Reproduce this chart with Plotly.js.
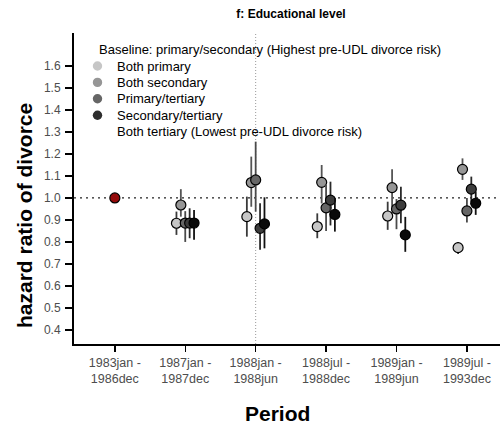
<!DOCTYPE html>
<html>
<head>
<meta charset="utf-8">
<script src="https://cdn.plot.ly/plotly-3.0.1.min.js"></script>
<style>html,body{margin:0;padding:0;background:#fff;}#chart{width:500px;height:427px;}</style>
</head>
<body>
<div id="chart"></div>
<script>
// ---- data ----
const periodLabels = ["1983jan -<br>1986dec", "1987jan -<br>1987dec", "1988jan -<br>1988jun", "1988jul -<br>1988dec", "1989jan -<br>1989jun", "1989jul -<br>1993dec"];
const periodIndex = [0, 1, 2, 3, 4, 5];
const laterPeriods = [1, 2, 3, 4, 5];

const baselineName = "Baseline: primary/secondary (Highest pre-UDL divorce risk)";
const baselinePeriod = [0];
const baselineValue = [1.0];

const seriesNames = ["Both primary", "Both secondary", "Primary/tertiary", "Secondary/tertiary", "Both tertiary (Lowest pre-UDL divorce risk)"];

const bothPrimary       = [0.885, 0.915, 0.870, 0.918, 0.774];
const bothPrimaryLo     = [0.832, 0.824, 0.817, 0.855, 0.745];
const bothPrimaryHi     = [0.938, 1.006, 0.930, 0.983, 0.800];

const bothSecondary     = [0.968, 1.070, 1.071, 1.047, 1.130];
const bothSecondaryLo   = [0.915, 0.960, 0.975, 0.960, 1.082];
const bothSecondaryHi   = [1.040, 1.188, 1.150, 1.130, 1.180];

const primTertiary      = [0.886, 1.082, 0.955, 0.950, 0.941];
const primTertiaryLo    = [0.800, 0.938, 0.850, 0.858, 0.888];
const primTertiaryHi    = [0.940, 1.256, 1.060, 0.995, 1.000];

const secTertiary       = [0.886, 0.862, 0.990, 0.967, 1.040];
const secTertiaryLo     = [0.817, 0.764, 0.875, 0.885, 0.983];
const secTertiaryHi     = [0.953, 0.976, 1.074, 1.051, 1.097];

const bothTertiary      = [0.886, 0.882, 0.925, 0.832, 0.976];
const bothTertiaryLo    = [0.810, 0.771, 0.847, 0.755, 0.923];
const bothTertiaryHi    = [0.945, 1.003, 1.000, 0.914, 1.030];

const yTicks = [0.4, 0.5, 0.6, 0.7, 0.8, 0.9, 1.0, 1.1, 1.2, 1.3, 1.4, 1.5, 1.6];

const titleText = "f: Educational level";
const xTitleText = "Period";
const yTitleText = "hazard ratio of divorce";

// ---- styles ----
const fills = ["#c6c6c6", "#969696", "#666666", "#3c3c3c", "#0a0a0a"];
const legendFills = ["#c6c6c6", "#969696", "#666666", "#2e2e2e"];
const barColors = ["#3a3a3a", "#555555", "#4a4a4a", "#2a2a2a", "#111111"];
const dodge = [-0.125, -0.0625, 0, 0.0625, 0.125];
const FONT = "Liberation Sans, Arial, sans-serif";

const allSeries = [
  [bothPrimary, bothPrimaryLo, bothPrimaryHi],
  [bothSecondary, bothSecondaryLo, bothSecondaryHi],
  [primTertiary, primTertiaryLo, primTertiaryHi],
  [secTertiary, secTertiaryLo, secTertiaryHi],
  [bothTertiary, bothTertiaryLo, bothTertiaryHi]
];

const traces = allSeries.map((s, i) => {
  const [v, lo, hi] = s;
  return {
    type: "scatter", mode: "markers", name: seriesNames[i], showlegend: false,
    x: laterPeriods.map(p => p + dodge[i]),
    y: v,
    error_y: {type: "data", symmetric: false,
      array: hi.map((h, k) => h - v[k]),
      arrayminus: lo.map((l, k) => v[k] - l),
      width: 0, thickness: 1.8, color: barColors[i]},
    marker: {size: 10, color: fills[i], line: {color: "#000", width: 1.2}},
    cliponaxis: false
  };
});
traces.unshift({
  type: "scatter", mode: "markers", name: baselineName, showlegend: false,
  x: baselinePeriod, y: baselineValue,
  marker: {size: 10, color: "#940a0a", line: {color: "#000", width: 1.2}}
});

// plot area in pixels
const L = 74, R = 0, T = 33, B = 83, W = 500, H = 427;
const pw = W - L - R, ph = H - T - B;
const px = x => (x - L) / pw;
const py = y => (H - B - y) / ph;

const legendLines = [baselineName].concat(seriesNames);
const legendY = [49.5, 66, 82.4, 98.8, 115.2, 131.6];
const annotations = legendLines.map((t, i) => ({
  xref: "paper", yref: "paper",
  x: i === 0 ? px(97) : px(114.5), y: py(legendY[i]),
  xanchor: "left", yanchor: "middle", showarrow: false,
  text: t, font: {size: 13, color: "#000", family: FONT}
}));
annotations.push({
  xref: "paper", yref: "paper", x: px(277), y: py(413),
  xanchor: "center", yanchor: "middle", showarrow: false,
  text: "<b>" + xTitleText + "</b>", font: {size: 21, color: "#000", family: FONT}
});
annotations.push({
  xref: "paper", yref: "paper", x: px(24), y: py(216),
  xanchor: "center", yanchor: "middle", showarrow: false, textangle: -90,
  text: "<b>" + yTitleText + "</b>", font: {size: 21, color: "#000", family: FONT}
});

const shapes = [
  {type: "line", xref: "paper", yref: "y", x0: 0, x1: 1, y0: 1, y1: 1,
   line: {color: "#222", width: 1.3, dash: "2px,4px"}, layer: "below"},
  {type: "line", xref: "x", yref: "paper", x0: 2, x1: 2, y0: 0, y1: 1,
   line: {color: "#999", width: 1, dash: "1px,2px"}, layer: "below"}
];
legendFills.forEach((c, i) => {
  shapes.push({type: "circle", xref: "paper", yref: "paper",
    xsizemode: "pixel", ysizemode: "pixel",
    xanchor: px(97.5), yanchor: py(legendY[i + 1]),
    x0: -4.7, x1: 4.7, y0: -4.7, y1: 4.7,
    fillcolor: c, line: {width: 0}});
});

const layout = {
  width: W, height: H,
  margin: {l: L, r: R, t: T, b: B},
  paper_bgcolor: "#fff", plot_bgcolor: "#fff",
  font: {family: FONT, color: "#000"},
  showlegend: false,
  title: {text: "<b>" + titleText + "</b>", font: {size: 12, color: "#000"},
          xref: "paper", x: px(291), xanchor: "center", yref: "container", y: 1 - 14 / H, yanchor: "middle"},
  xaxis: {
    range: [-0.58, 5.47], tickmode: "array", tickvals: periodIndex, ticktext: periodLabels,
    showgrid: false, zeroline: false, showline: true, linecolor: "#000", linewidth: 2,
    ticks: "outside", ticklen: 6, tickwidth: 1.5, tickcolor: "#000",
    tickfont: {size: 12.5, color: "#4d4d4d"}
  },
  yaxis: {
    range: [0.336, 1.75], tickmode: "array", tickvals: yTicks, tickformat: ".1f",
    showgrid: false, zeroline: false, showline: true, linecolor: "#000", linewidth: 2,
    ticks: "outside", ticklen: 7, tickwidth: 1.5, tickcolor: "#000", ticklabelstandoff: 2,
    tickfont: {size: 12, color: "#4d4d4d"}
  },
  shapes: shapes,
  annotations: annotations
};

Plotly.newPlot("chart", traces, layout, {displayModeBar: false, staticPlot: true});
</script>
</body>
</html>
